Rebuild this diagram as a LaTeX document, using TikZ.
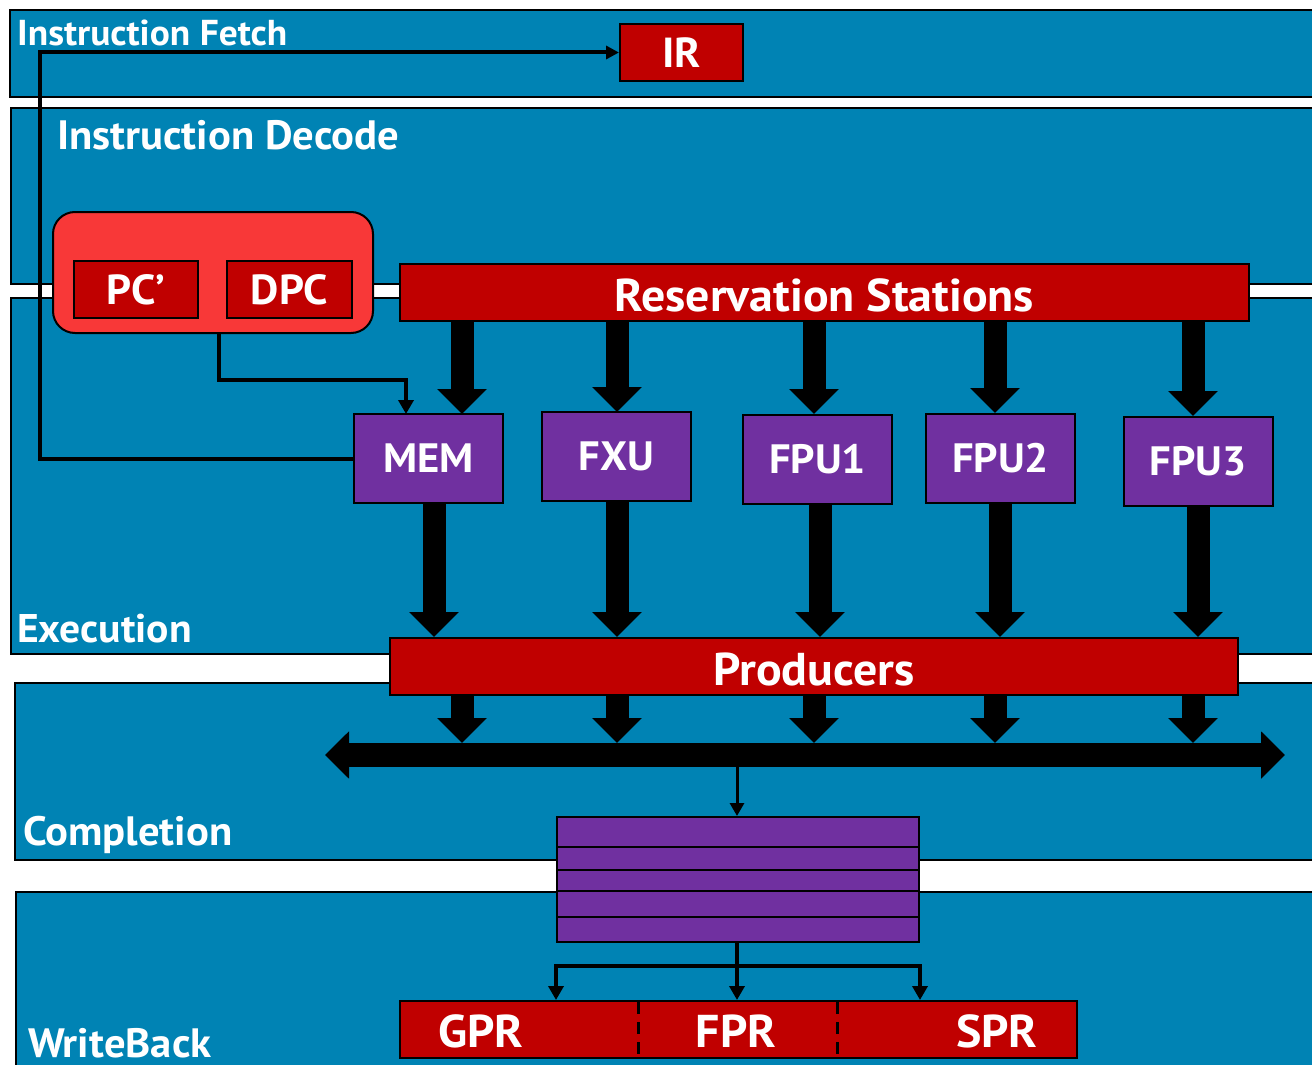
\documentclass[tikz,border=0pt]{standalone}
\usepackage{fontspec}
\setmainfont{PT Sans}[FakeStretch=1.04]
\usetikzlibrary{arrows.meta,calc}
\definecolor{band}{RGB}{0,131,180}
\definecolor{regred}{RGB}{192,0,0}
\definecolor{pcred}{RGB}{248,56,56}
\definecolor{unitpurple}{RGB}{112,48,160}
\newcommand{\fsz}[1]{\fontsize{#1}{#1}\selectfont}
\tikzset{
  bandbox/.style={fill=band,draw=black,line width=2pt},
  bandlabel/.style={text=white,anchor=base west,inner sep=0pt,font=\bfseries\fsz{41}},
  redbox/.style={fill=regred,draw=black,line width=2pt,text=white,inner sep=0pt,font=\bfseries\fsz{42}},
  unitbox/.style={fill=unitpurple,draw=black,line width=2pt,text=white,inner sep=0pt,
    minimum width=149pt,minimum height=89pt,font=\bfseries\fsz{41}},
  regtext/.style={text=white,inner sep=0pt,font=\bfseries\fsz{46}},
  bigarrow/.style={line width=23pt,-{Triangle[width=48pt,length=25pt]}},
  busarrow/.style={line width=24pt,{Triangle[width=46pt,length=24pt]}-{Triangle[width=46pt,length=24pt]}},
  wire/.style={line width=4pt},
  wirearrow/.style={wire,-{Triangle[width=15pt,length=14pt]}},
  finearrow/.style={line width=3pt,-{Triangle[width=14pt,length=13pt]}}
}
\begin{document}
\begin{tikzpicture}[x=1pt,y=-1pt]
\useasboundingbox (0,0) rectangle (1312,1065);
\fill[white] (0,0) rectangle (1312,1065);

% pipeline stage bands
\draw[bandbox] (10,10) rectangle (1330,97);
\draw[bandbox] (11,108) rectangle (1330,284);
\draw[bandbox] (11,298) rectangle (1330,654);
\draw[bandbox] (15,683) rectangle (1330,860);
\draw[bandbox] (16,892) rectangle (1330,1080);

\node[bandlabel,font=\bfseries\fsz{36}] (lfetch) at (17,46) {Instruction Fetch};
\node[bandlabel] (ldecode) at (57,149) {Instruction Decode};
\node[bandlabel,font=\bfseries\fsz{40}] (lexec) at (17,642) {Execution};
\node[bandlabel] (lcompl) at (23,845) {Completion};
\node[bandlabel] (lwb) at (28,1057) {WriteBack};

% fetch / decode registers
\node[redbox,minimum width=123pt,minimum height=57pt] (ir) at (681.5,52.5) {IR};
\node[fill=pcred,draw=black,line width=2pt,rounded corners=22pt,
      minimum width=320pt,minimum height=121pt,inner sep=0pt] (pcgroup) at (213,272.5) {};
\node[redbox,minimum width=124pt,minimum height=57pt] (pc) at (136,289.5) {PC’};
\node[redbox,minimum width=125pt,minimum height=57pt] (dpc) at (289.5,289.5) {DPC};
\node[redbox,minimum width=849pt,minimum height=57pt,text height=38pt,text depth=0pt,font=\bfseries\fsz{46}] (rs) at (824.5,292.5) {Reservation Stations};

% functional units
\node[unitbox] (mem) at (428.5,458.5) {MEM};
\node[unitbox] (fxu) at (616.5,456.5) {FXU};
\node[unitbox] (fpu1) at (817.5,459) {FPU1};
\node[unitbox] (fpu2) at (1000.5,458) {FPU2};
\node[unitbox] (fpu3) at (1198,461) {FPU3};

\node[redbox,minimum width=848pt,minimum height=57pt,text height=38pt,text depth=0pt,font=\bfseries\fsz{46}] (prod) at (814,666.5) {Producers};

% completion buffer
\node[fill=unitpurple,draw=black,line width=2pt,minimum width=362pt,minimum height=125pt,inner sep=0pt] (stack) at (738,879.5) {};
\foreach \d in {31,54,75,101}
  \draw[line width=2pt] ($(stack.north west)+(0,\d)$) -- ($(stack.north east)+(0,\d)$);

% register files
\node[fill=regred,draw=black,line width=2pt,minimum width=677pt,minimum height=57pt,inner sep=0pt] (regs) at (738.5,1029.5) {};
\draw[line width=3pt,dash pattern=on 12pt off 8pt] (638,1002) -- (638,1057);
\draw[line width=3pt,dash pattern=on 12pt off 8pt] (837,1002) -- (837,1057);
\node[regtext] (gpr) at (481,1031) {GPR};
\node[regtext] (fpr) at (736,1031) {FPR};
\node[regtext] (spr) at (997,1031) {SPR};

% issue arrows: reservation stations to units
\coordinate (a1) at (462,414);
\coordinate (a2) at (617,412);
\coordinate (a3) at (814,414);
\coordinate (a4) at (995,413);
\coordinate (a5) at (1193,416);
\foreach \a in {a1,a2,a3,a4,a5}
  \draw[bigarrow] (\a |- rs.south) -- (\a);

% result arrows: units to producers
\coordinate (b1) at (434,503);
\coordinate (b2) at (617,501);
\coordinate (b3) at (820,504);
\coordinate (b4) at (1000,503);
\coordinate (b5) at (1198,506);
\foreach \b in {b1,b2,b3,b4,b5}
  \draw[bigarrow] (\b) -- (\b |- prod.north);

% result bus
\coordinate (busL) at (325,755);
\coordinate (busR) at (1285,755);
\coordinate (bustop) at (0,743);
\draw[busarrow] (busL) -- (busR);
\foreach \a in {a1,a2,a3,a4,a5}
  \draw[bigarrow] (\a |- prod.south) -- (\a |- bustop);

% bus to completion buffer
\coordinate (busbot) at (737,767);
\draw[finearrow] (busbot) -- (busbot |- stack.north);

% completion buffer to register files
\coordinate (split) at (737,966);
\draw[wire] (split |- stack.south) -- (split);
\draw[wire,line cap=rect] (stack.west |- split) -- (stack.east |- split);
\draw[wirearrow] (stack.west |- split) -- (stack.west |- regs.north);
\draw[wirearrow] (split) -- (split |- regs.north);
\draw[wirearrow] (stack.east |- split) -- (stack.east |- regs.north);

% DPC to MEM
\coordinate (dpcout) at (219,333);
\coordinate (memin) at (406,414);
\draw[wirearrow] (dpcout) |- ($(memin)+(0,-34)$) -- (memin);

% MEM back to IR
\coordinate (lft) at (40,0);
\draw[wire,-{Triangle[width=13pt,length=13pt]}] (mem.west) -| (lft |- ir.west) -- (ir.west);
\end{tikzpicture}
\end{document}
